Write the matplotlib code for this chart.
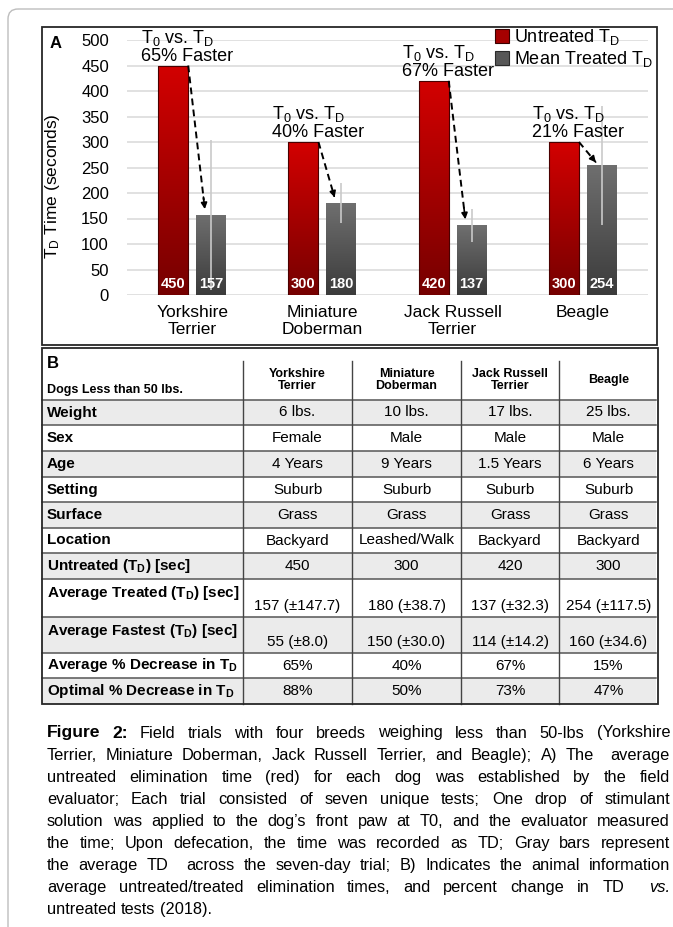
import numpy as np
import matplotlib
matplotlib.use('Agg')
from matplotlib import pyplot as plt
from matplotlib.colors import LinearSegmentedColormap
from matplotlib.patches import Rectangle, FancyBboxPatch, Patch

plt.rcParams['font.family'] = 'Liberation Sans'
plt.rcParams['mathtext.fontset'] = 'custom'
plt.rcParams['mathtext.rm'] = 'Liberation Sans'
plt.rcParams['mathtext.it'] = 'Liberation Sans:italic'
plt.rcParams['mathtext.bf'] = 'Liberation Sans:bold'

# Dati
breeds = ['Yorkshire\nTerrier', 'Miniature\nDoberman', 'Jack Russell\nTerrier', 'Beagle']
untreated = [450, 300, 420, 300]
treated = [157, 180, 137, 254]
treated_sd = [147.7, 38.7, 32.3, 117.5]
faster_pct = [65, 40, 67, 21]

tab_breeds = ['Yorkshire\nTerrier', 'Miniature\nDoberman', 'Jack Russell\nTerrier', 'Beagle']
weights = ['6 lbs.', '10 lbs.', '17 lbs.', '25 lbs.']
sexes = ['Female', 'Male', 'Male', 'Male']
ages = ['4 Years', '9 Years', '1.5 Years', '6 Years']
settings = ['Suburb', 'Suburb', 'Suburb', 'Suburb']
surfaces = ['Grass', 'Grass', 'Grass', 'Grass']
locations = ['Backyard', 'Leashed/Walk', 'Backyard', 'Backyard']
fastest = [55, 150, 114, 160]
fastest_sd = [8.0, 30.0, 14.2, 34.6]
avg_decrease = [65, 40, 67, 15]
opt_decrease = [88, 50, 73, 47]
row_labels = ['Weight', 'Sex', 'Age', 'Setting', 'Surface', 'Location',
              r'Untreated (T$_\mathbf{D}$) [sec]',
              r'Average Treated (T$_\mathbf{D}$) [sec]',
              r'Average Fastest (T$_\mathbf{D}$) [sec]',
              r'Average % Decrease in T$_\mathbf{D}$',
              r'Optimal % Decrease in T$_\mathbf{D}$']

caption = ["Figure 2: Field trials with four breeds weighing less than 50-lbs (Yorkshire",
           "Terrier, Miniature Doberman, Jack Russell Terrier, and Beagle); A) The  average",
           "untreated elimination time (red) for each dog was established by the field",
           "evaluator; Each trial consisted of seven unique tests; One drop of stimulant",
           "solution was applied to the dog\u2019s front paw at T0, and the evaluator measured",
           "the time; Upon defecation, the time was recorded as TD; Gray bars represent",
           "the average TD  across the seven-day trial; B) Indicates the animal information",
           "average untreated/treated elimination times, and percent change in TD  vs.",
           "untreated tests (2018)."]

W, H = 673, 927
fig = plt.figure(figsize=(W/100, H/100), dpi=100)
# assi di sfondo in pixel
bg = fig.add_axes([0, 0, 1, 1])
bg.set_xlim(0, W)
bg.set_ylim(H, 0)
bg.axis('off')

bg.add_patch(FancyBboxPatch((8, 9), 720, 960, boxstyle='round,pad=0,rounding_size=10',
                            ec='#bdbdbd', fc='none', lw=1.0))
bg.add_patch(Rectangle((42, 27), 615, 318, ec='#262626', fc='none', lw=1.3))
bg.text(50, 43, 'A', fontsize=12, weight='bold', va='center', ha='left')

# ---- Pannello A ----
ax = fig.add_axes([127/W, 1-295/H, 521/W, 255/H])
ax.set_zorder(2)
ax.patch.set_alpha(0)
xs = np.arange(len(breeds))
bw, off = 0.23, 0.146
red_cm = LinearSegmentedColormap.from_list('r', ['#760000', '#d30000'])
gray_cm = LinearSegmentedColormap.from_list('g', ['#3b3b3b', '#6f6f6f'])
grad = np.linspace(0, 1, 256).reshape(-1, 1)

b1 = ax.bar(xs - off, untreated, bw, color='#a80000', ec='none', zorder=2)
b2 = ax.bar(xs + off, treated, bw, color='#555555', ec='none', zorder=2)
for bars, cm in ((b1, red_cm), (b2, gray_cm)):
    for b in bars:
        x0, h = b.get_x(), b.get_height()
        im = ax.imshow(grad, extent=(x0, x0 + bw, 0, h), origin='lower', cmap=cm,
                       aspect='auto', zorder=2.1)
        im.set_clip_path(b)
# bordo scuro delle barre rosse
ax.bar(xs - off, untreated, bw, color='none', ec='#4a0000', lw=0.8, zorder=2.2)
ax.errorbar(xs + off, treated, yerr=treated_sd, fmt='none', ecolor='#c9c9c9',
            elinewidth=1.2, capsize=0, zorder=3)

for i in range(len(xs)):
    ax.text(xs[i] - off, 22, str(untreated[i]), color='white', weight='bold',
            fontsize=10.5, ha='center', va='center', zorder=4)
    ax.text(xs[i] + off, 22, str(treated[i]), color='white', weight='bold',
            fontsize=10.5, ha='center', va='center', zorder=4)
    ax.text(xs[i] - 0.39, untreated[i] + 1,
            'T$_0$ vs. T$_\\mathrm{D}$\n%d%% Faster' % faster_pct[i],
            fontsize=13, ha='left', va='bottom', linespacing=1.0, zorder=4)
    # freccia tratteggiata
    sx, sy = xs[i] - 0.03, untreated[i]
    ex, ey = xs[i] + 0.1, treated[i] + 6
    ax.plot([sx, ex - 0.08*(ex - sx)], [sy, ey - 0.08*(ey - sy)], 'k--', lw=1.4,
            dashes=(3.5, 2.2), zorder=4)
    ax.annotate('', xy=(ex, ey), xytext=(ex - 0.12*(ex - sx), ey - 0.12*(ey - sy)),
                arrowprops=dict(arrowstyle='-|>', color='k', lw=1.2, mutation_scale=9),
                zorder=4)

ax.set_xlim(-0.5, 3.5)
ax.set_ylim(0, 500)
ax.set_yticks(np.arange(0, 501, 50))
ax.set_xticks(xs)
ax.set_xticklabels(breeds, fontsize=12.5)
ax.tick_params(axis='y', length=0, pad=13, labelsize=12)
ax.tick_params(axis='x', length=0, pad=7)
ax.yaxis.grid(True, color='#d9d9d9', lw=1.1, zorder=0)
ax.set_axisbelow(True)
for s in ax.spines.values():
    s.set_visible(False)
ax.set_ylabel(r'T$_\mathrm{D}$ Time (seconds)', fontsize=12.5)
ax.yaxis.set_label_coords((62 - 127)/521, (295 - 186)/255)

leg = ax.legend([Patch(fc='#a50000', ec='#3a0000', lw=0.8), Patch(fc='#575757', ec='#2a2a2a', lw=0.8)],
                [r'Untreated T$_\mathrm{D}$', r'Mean Treated T$_\mathrm{D}$'],
                loc='upper left', bbox_to_anchor=(495/W, 1 - 27/H), bbox_transform=fig.transFigure,
                frameon=False, fontsize=13, handlelength=0.8, handleheight=0.8,
                handletextpad=0.25, labelspacing=0.12, borderpad=0, borderaxespad=0)

# ---- Pannello B (tabella) ----
tl, tr, tt, tb = 42, 658, 348, 704
col_edges = [243, 352, 461, 559, 658]
row_edges = [400, 425, 451, 477, 502, 528, 553, 579, 617, 653, 678, 704]
table_vals = [weights, sexes, ages, settings, surfaces, locations,
              [str(v) for v in untreated],
              ['%d (\u00b1%.1f)' % (m, s) for m, s in zip(treated, treated_sd)],
              ['%d (\u00b1%.1f)' % (m, s) for m, s in zip(fastest, fastest_sd)],
              ['%d%%' % v for v in avg_decrease],
              ['%d%%' % v for v in opt_decrease]]

for r in range(len(row_labels)):
    y0, y1 = row_edges[r], row_edges[r + 1]
    if r % 2 == 0:
        bg.add_patch(Rectangle((tl, y0), 614, y1 - y0, fc='#ebebeb', ec='none', zorder=0))
    bg.plot([tl, 656], [y0, y0], color='#555555', lw=1.1, zorder=1)
    tall = (y1 - y0) > 30
    ly = y0 + 14 if tall else (y0 + y1)/2
    vy = y1 - 11 if tall else (y0 + y1)/2
    bg.text(47, ly, row_labels[r], fontsize=11, weight='bold', ha='left', va='center')
    for c in range(4):
        cx = (col_edges[c] + col_edges[c + 1])/2
        bg.text(cx, vy, table_vals[r][c], fontsize=11, ha='center', va='center')

for x in col_edges[:-1]:
    bg.plot([x, x], [361, tb], color='#444444', lw=1.0, zorder=1)
bg.add_patch(Rectangle((tl, tt), tr - tl, tb - tt, ec='#262626', fc='none', lw=1.3, zorder=2))
bg.text(47, 363, 'B', fontsize=12, weight='bold', ha='left', va='center')
bg.text(47, 390, 'Dogs Less than 50 lbs.', fontsize=9, weight='bold', ha='left', va='center')
for c in range(4):
    cx = (col_edges[c] + col_edges[c + 1])/2
    bg.text(cx, 380, tab_breeds[c], fontsize=9, weight='bold', ha='center', va='center',
            linespacing=1.05)

# ---- Didascalia giustificata ----
renderer = fig.canvas.get_renderer()
cap_fs = 11.8
x_left, x_right = 47, 670
for k, line in enumerate(caption):
    yb = 732 + 22.1*k + 5.5
    words = line.split(' ')
    objs = []
    for j, w in enumerate(words):
        bold = (k == 0 and j < 2)
        ital = (w == 'vs.')
        objs.append(bg.text(0, yb, w, fontsize=cap_fs + (0.8 if bold else 0),
                            weight='bold' if bold else 'normal',
                            style='italic' if ital else 'normal', ha='left', va='baseline'))
    widths = [t.get_window_extent(renderer).width if t.get_text() else 0 for t in objs]
    if k < len(caption) - 1:
        gap = (x_right - x_left - sum(widths))/(len(words) - 1)
    else:
        gap = cap_fs*0.278*100/72
    x = x_left
    for t, wd in zip(objs, widths):
        t.set_x(x)
        x += wd + gap

fig.savefig('out.png', dpi=100)
